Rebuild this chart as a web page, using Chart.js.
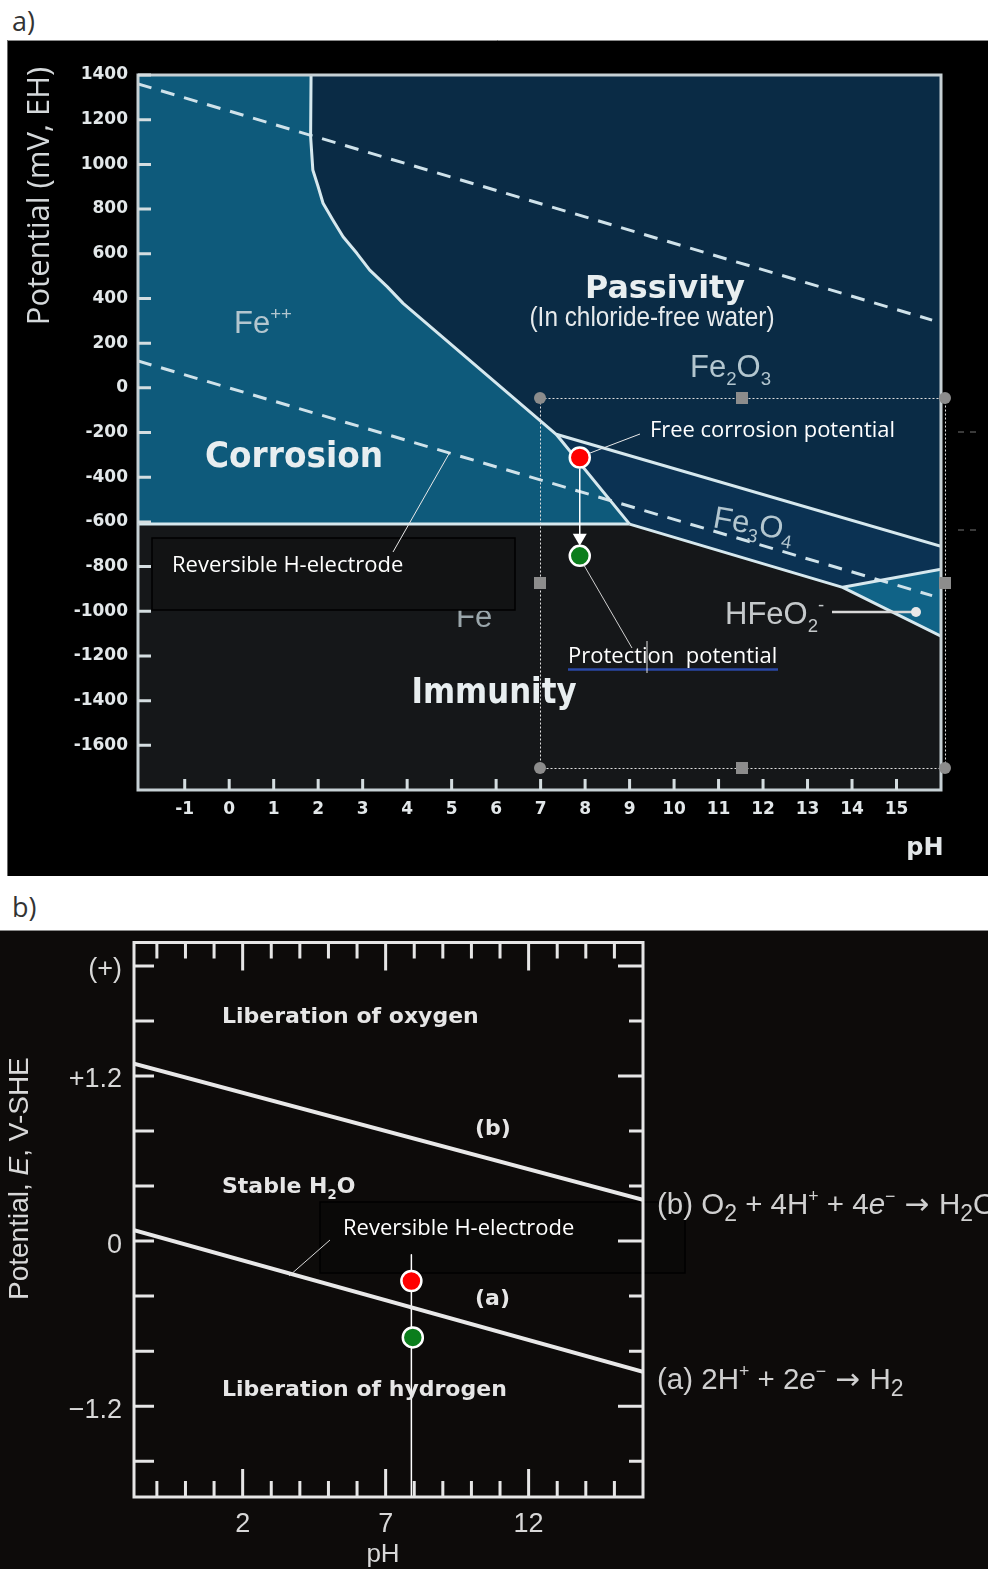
<!DOCTYPE html>
<html>
<head>
<meta charset="utf-8">
<script src="https://cdn.jsdelivr.net/npm/chart.js@4.4.1/dist/chart.umd.min.js"></script>
<style>
  html, body { margin: 0; padding: 0; background: #fff; }
  body { position: relative; width: 988px; height: 1569px; overflow: hidden; }
  .tag { position: absolute; left: 12px; font: 27px 'Open Sans', sans-serif; color: #333; line-height: 30px; }
  #chartA { position: absolute; left: 7px; top: 40px; }
  #chartB { position: absolute; left: 0; top: 930px; }
</style>
</head>
<body>
<div class="tag" style="top:6px">a)</div>
<div class="tag" style="top:892px">b)</div>
<canvas id="chartA" width="981" height="836"></canvas>
<canvas id="chartB" width="988" height="639"></canvas>
<script>
// ---- panel a: iron Pourbaix diagram, points are [pH, mV] ----
const phTicksA = [-1, 0, 1, 2, 3, 4, 5, 6, 7, 8, 9, 10, 11, 12, 13, 14, 15];
const mvTicksA = [-1600, -1400, -1200, -1000, -800, -600, -400, -200, 0, 200, 400, 600, 800, 1000, 1200, 1400];
const fe2Boundary = [[1.84, 1400], [1.83, 1124], [1.88, 975], [2.0, 900], [2.11, 826], [2.33, 751],
                     [2.56, 676], [2.87, 602], [3.16, 527], [3.55, 453], [3.91, 378], [7.35, -208], [9.0, -610]];
const feFloor = [[-2.05, -610], [9.0, -610]];
const fe3o4Top = [[7.35, -208], [16, -709]];
const immunityEdge = [[9.0, -610], [13.79, -893], [16, -1112]];
const hfeo2Top = [[13.79, -893], [16, -812]];
const oxygenLineA = [[-2.05, 1360], [15.8, 303]];
const hydrogenLineA = [[-2.05, 120], [15.8, -930]];
const freeCorrosionA = [7.88, -312];
const protectionA = [7.88, -752];

// ---- panel b: water stability diagram, points are [pH, V] ----
const phTicksB = [-1, 0, 1, 2, 3, 4, 5, 6, 7, 8, 9, 10, 11, 12, 13, 14, 15];
const phLabelsB = [2, 7, 12];
const eTicksB = [-1.6, -1.2, -0.8, -0.4, 0, 0.4, 0.8, 1.2, 1.6, 2.0];
const eLabelValuesB = [2.0, 1.2, 0, -1.2];
const eLabelTextB = ['(+)', '+1.2', '0', '\u22121.2'];
const oxygenLineB = [[-1.8, 1.29], [16, 0.30]];
const hydrogenLineB = [[-1.8, 0.08], [16, -0.95]];
const freeCorrosionB = [7.9, -0.29];
const protectionB = [7.95, -0.70];
const markerLineB = [[7.9, -0.10], [7.9, -1.86]];

const xy = pts => pts.map(p => ({ x: p[0], y: p[1] }));

// polygons built from the boundaries above
const corrosionPoly = [[-2.05, 1400]].concat(fe2Boundary, [[-2.05, -610]]);
const passivityPoly = fe2Boundary.slice(0, -1).concat([[16, -709], [16, 1400]]);
const fe3o4Poly = [fe3o4Top[0], fe3o4Top[1], hfeo2Top[1], hfeo2Top[0], immunityEdge[0]];
const hfeo2Poly = [hfeo2Top[0], hfeo2Top[1], immunityEdge[2]];

function region(pts, color) {
  return { data: xy(pts), fill: 'shape', backgroundColor: color, borderColor: 'transparent',
           borderWidth: 0, pointRadius: 0, tension: 0, order: 10 };
}
function edge(pts, color, width, dash) {
  return { data: xy(pts), fill: false, borderColor: color, borderWidth: width, borderDash: dash || [],
           pointRadius: 0, tension: 0, order: 5, borderJoinStyle: 'round' };
}
function dot(p, color) {
  return { data: xy([p]), showLine: false, pointRadius: 10, pointBackgroundColor: color,
           pointBorderColor: '#ffffff', pointBorderWidth: 2.5, order: 1 };
}

function txt(ctx, s, x, y, font, color, align, maxW) {
  ctx.save();
  ctx.font = font; ctx.fillStyle = color;
  ctx.textAlign = align || 'left'; ctx.textBaseline = 'middle';
  if (maxW) ctx.fillText(s, x, y, maxW); else ctx.fillText(s, x, y);
  ctx.restore();
}
// parts: [text, mode] mode 0 normal, 1 sub, 2 sup, 3 italic, 4 arrow ; y is the baseline
function chem(ctx, parts, x, y, size, family, color, weight, subScale) {
  ctx.save();
  ctx.fillStyle = color; ctx.textBaseline = 'alphabetic'; ctx.textAlign = 'left';
  const w = weight ? weight + ' ' : '';
  const sub = subScale || 0.6;
  let cx = x;
  for (const [s, mode] of parts) {
    let sz = size, dy = 0, fam = family, st = '';
    if (mode === 1) { sz = size * sub; dy = size * 0.25; }
    if (mode === 2) { sz = size * 0.6; dy = -size * 0.42; }
    if (mode === 3) st = 'italic ';
    if (mode === 4) fam = "'DejaVu Sans', sans-serif";
    ctx.font = st + w + sz + 'px ' + fam;
    ctx.fillText(s, cx, y + dy);
    cx += ctx.measureText(s).width;
  }
  ctx.restore();
}
function line(ctx, x1, y1, x2, y2, color, w, dash) {
  ctx.save();
  ctx.strokeStyle = color; ctx.lineWidth = w; ctx.setLineDash(dash || []);
  ctx.beginPath(); ctx.moveTo(x1, y1); ctx.lineTo(x2, y2); ctx.stroke();
  ctx.restore();
}
const noOverflow = s => { s.paddingTop = 0; s.paddingBottom = 0; s.paddingLeft = 0; s.paddingRight = 0; };

const panelA = {
  id: 'panelA',
  beforeDraw(chart) {
    const { ctx, chartArea: a } = chart;
    ctx.save();
    ctx.fillStyle = '#000'; ctx.fillRect(0, 0, chart.width, chart.height);
    ctx.fillStyle = '#151719'; ctx.fillRect(a.left, a.top, a.right - a.left, a.bottom - a.top);
    ctx.restore();
    line(ctx, 0, 0.5, chart.width, 0.5, '#8a8a8a', 1);
    line(ctx, 0.5, 0, 0.5, chart.height, '#6a6a6a', 1);
  },
  afterDatasetsDraw(chart) {
    const { ctx, chartArea: a, scales: { x, y } } = chart;
    ctx.save();
    ctx.strokeStyle = '#c6d0d4'; ctx.lineWidth = 3;
    ctx.strokeRect(a.left, a.top, a.right - a.left, a.bottom - a.top);
    ctx.strokeStyle = '#d4dde0'; ctx.lineWidth = 3;
    ctx.beginPath();
    for (const v of mvTicksA) { const py = y.getPixelForValue(v); ctx.moveTo(a.left, py); ctx.lineTo(a.left + 13, py); }
    for (const v of phTicksA) { const px = x.getPixelForValue(v); ctx.moveTo(px, a.bottom); ctx.lineTo(px, a.bottom - 11); }
    ctx.stroke();
    ctx.restore();

    // arrow from free corrosion to protection potential
    const rx = x.getPixelForValue(freeCorrosionA[0]), ry = y.getPixelForValue(freeCorrosionA[1]);
    const gx = x.getPixelForValue(protectionA[0]), gy = y.getPixelForValue(protectionA[1]);
    line(ctx, rx, ry + 11, gx, gy - 20, '#ffffff', 1.5);
    ctx.save();
    ctx.fillStyle = '#ffffff';
    ctx.beginPath(); ctx.moveTo(gx - 7, gy - 22); ctx.lineTo(gx + 7, gy - 22); ctx.lineTo(gx, gy - 10); ctx.closePath(); ctx.fill();
    ctx.restore();
  },
  afterDraw(chart) {
    const { ctx, scales: { x, y } } = chart;
    const rx = x.getPixelForValue(freeCorrosionA[0]), ry = y.getPixelForValue(freeCorrosionA[1]);
    const gx = x.getPixelForValue(protectionA[0]), gy = y.getPixelForValue(protectionA[1]);
    ctx.save();
    ctx.translate(-7, -40); // page coordinates from here
    const gray = '#b3c6cf', white = '#e8eef0';
    const gothic = "'Liberation Sans', Arial, sans-serif";
    const bold = "bold 35px 'DejaVu Sans', sans-serif";

    // axis titles
    ctx.save();
    ctx.translate(40, 196); ctx.rotate(-Math.PI / 2);
    txt(ctx, 'Potential (mV, EH)', 0, 0, "31px 'Open Sans', sans-serif", '#d4d8da', 'center', 270);
    ctx.restore();
    txt(ctx, 'pH', 925, 849, "bold 24px 'DejaVu Sans', sans-serif", '#e2e6e8', 'center');

    // region labels
    chem(ctx, [['Fe', 0], ['++', 2]], 234, 333, 31, gothic, gray);
    txt(ctx, 'Corrosion', 294, 458, bold, white, 'center', 178);
    txt(ctx, 'Passivity', 665, 290, "bold 32px 'DejaVu Sans', sans-serif", white, 'center', 160);
    txt(ctx, '(In chloride-free water)', 652, 318, "28px 'Liberation Sans', Arial, sans-serif", '#e6eaec', 'center', 245);
    chem(ctx, [['Fe', 0], ['2', 1], ['O', 0], ['3', 1]], 690, 377, 31, gothic, gray);
    ctx.save();
    ctx.translate(712, 527); ctx.rotate(10 * Math.PI / 180);
    chem(ctx, [['Fe', 0], ['3', 1], ['O', 0], ['4', 1]], 0, 0, 31, gothic, gray);
    ctx.restore();
    chem(ctx, [['Fe', 0]], 456, 627, 31, gothic, '#9aa6ab');
    txt(ctx, 'Immunity', 494, 694, bold, white, 'center', 165);
    chem(ctx, [['HFeO', 0], ['2', 1], ['-', 2]], 725, 624, 31, gothic, '#c4c8ca');
    line(ctx, 832, 612, 912, 612, '#d8d8d8', 2.5);
    ctx.save(); ctx.fillStyle = '#e8e8e8';
    ctx.beginPath(); ctx.arc(916, 612, 5, 0, Math.PI * 2); ctx.fill(); ctx.restore();

    // callout box
    ctx.save();
    ctx.fillStyle = '#121314'; ctx.strokeStyle = '#000'; ctx.lineWidth = 1.5;
    ctx.fillRect(152, 538, 363, 72); ctx.strokeRect(152, 538, 363, 72);
    ctx.restore();
    txt(ctx, 'Reversible H-electrode', 172, 566, "22px 'Open Sans', sans-serif", '#ffffff', 'left', 234);
    line(ctx, 393, 552, 450, 452, '#e8e8e8', 1);

    // free corrosion / protection callouts
    txt(ctx, 'Free corrosion potential', 650, 431, "22px 'Open Sans', sans-serif", '#ffffff', 'left', 245);
    line(ctx, rx + 7 + 9, ry + 40 - 4, 640, 434, '#e8e8e8', 1);
    txt(ctx, 'Protection  potential', 568, 657, "22px 'Open Sans', sans-serif", '#ffffff', 'left', 210);
    line(ctx, 568, 669.5, 778, 669.5, '#2a48a6', 2.5);
    line(ctx, 647, 641, 647, 673, '#e0e0e0', 1);
    line(ctx, gx + 7 + 4, gy + 40 + 9, 632, 648, '#d0d0d0', 1);

    // selection frame
    ctx.save();
    ctx.strokeStyle = '#e0e0e0'; ctx.lineWidth = 1; ctx.setLineDash([2, 2]);
    ctx.strokeRect(540.5, 398.5, 405, 370);
    ctx.setLineDash([]);
    ctx.fillStyle = '#8c8c8c';
    for (const [hx, hy] of [[540, 398], [945, 398], [540, 768], [945, 768]]) {
      ctx.beginPath(); ctx.arc(hx, hy, 6, 0, Math.PI * 2); ctx.fill();
    }
    for (const [hx, hy] of [[742, 398], [742, 768], [540, 583], [945, 583]]) ctx.fillRect(hx - 6, hy - 6, 12, 12);
    ctx.restore();
    line(ctx, 958, 432, 964, 432, '#3a3a3a', 2);
    line(ctx, 970, 432, 976, 432, '#3a3a3a', 2);
    line(ctx, 958, 530, 964, 530, '#3a3a3a', 2);
    line(ctx, 970, 530, 976, 530, '#3a3a3a', 2);
    ctx.restore();
  }
};

new Chart(document.getElementById('chartA'), {
  type: 'line',
  data: {
    datasets: [
      region(passivityPoly, '#0a2b45'),
      region(corrosionPoly, '#0e5a7b'),
      region(fe3o4Poly, '#0b3253'),
      region(hfeo2Poly, '#106387'),
      edge(fe2Boundary, '#d6e8ee', 3),
      edge(feFloor, '#d6e8ee', 3),
      edge(fe3o4Top, '#d6e8ee', 3),
      edge(immunityEdge, '#d6e8ee', 3),
      edge(hfeo2Top, '#d6e8ee', 3),
      edge(oxygenLineA, '#cfe2ea', 3, [14, 10]),
      edge(hydrogenLineA, '#cfe2ea', 3, [14, 10]),
      dot(freeCorrosionA, '#ff0000'),
      dot(protectionA, '#0b7d1c')
    ]
  },
  options: {
    responsive: false, animation: false, devicePixelRatio: 1, events: [],
    layout: { padding: { top: 35, right: 47, left: 0, bottom: 0 } },
    plugins: { legend: { display: false }, tooltip: { enabled: false } },
    scales: {
      x: {
        type: 'linear', min: -2.05, max: 16,
        grid: { display: false }, border: { display: false },
        afterBuildTicks: s => { s.ticks = phTicksA.map(v => ({ value: v })); },
        afterFit: s => { s.height = 86; noOverflow(s); },
        ticks: { autoSkip: false, maxRotation: 0, padding: 1, color: '#e2e7e9',
                 font: { family: 'DejaVu Sans', weight: 'bold', size: 17 }, callback: v => String(v) }
      },
      y: {
        type: 'linear', min: -1800, max: 1400,
        grid: { display: false }, border: { display: false },
        afterBuildTicks: s => { s.ticks = mvTicksA.map(v => ({ value: v })); },
        afterFit: s => { s.width = 131; noOverflow(s); },
        ticks: { autoSkip: false, padding: 2, color: '#e2e7e9',
                 font: { family: 'DejaVu Sans', weight: 'bold', size: 17 }, callback: v => String(v) }
      }
    }
  },
  plugins: [panelA]
});

const panelB = {
  id: 'panelB',
  beforeDraw(chart) {
    const { ctx } = chart;
    ctx.save();
    ctx.fillStyle = '#0d0b0a'; ctx.fillRect(0, 0, chart.width, chart.height);
    ctx.restore();
    line(ctx, 0, 0.5, chart.width, 0.5, '#8a8a8a', 1);
  },
  beforeDatasetsDraw(chart) {
    const { ctx } = chart;
    ctx.save();
    ctx.translate(0, -930);
    ctx.fillStyle = '#0a0908'; ctx.strokeStyle = '#000'; ctx.lineWidth = 1.5;
    ctx.fillRect(320, 1202, 365, 71); ctx.strokeRect(320, 1202, 365, 71);
    ctx.restore();
  },
  afterDatasetsDraw(chart) {
    const { ctx, chartArea: a, scales: { x, y } } = chart;
    ctx.save();
    ctx.strokeStyle = '#e6e6e6'; ctx.lineWidth = 3;
    ctx.strokeRect(a.left, a.top, a.right - a.left, a.bottom - a.top);
    ctx.beginPath();
    for (const v of eTicksB) {
      const py = y.getPixelForValue(v);
      const major = eLabelValuesB.some(l => Math.abs(l - v) < 1e-6);
      ctx.moveTo(a.left, py); ctx.lineTo(a.left + 20, py);
      ctx.moveTo(a.right, py); ctx.lineTo(a.right - (major ? 25 : 14), py);
    }
    for (const v of phTicksB) {
      const px = x.getPixelForValue(v);
      const major = phLabelsB.includes(v);
      ctx.moveTo(px, a.bottom); ctx.lineTo(px, a.bottom - (major ? 28 : 16));
      ctx.moveTo(px, a.top); ctx.lineTo(px, a.top + (major ? 28 : 16));
    }
    ctx.stroke();
    ctx.restore();
  },
  afterDraw(chart) {
    const { ctx } = chart;
    ctx.save();
    ctx.translate(0, -930);
    const lab = "bold 22px 'DejaVu Sans', sans-serif", c = '#e6e6e6';
    txt(ctx, 'Liberation of oxygen', 222, 1017, lab, c, 'left', 263);
    txt(ctx, '(b)', 475, 1129, lab, c, 'left', 36);
    chem(ctx, [['Stable H', 0], ['2', 1], ['O', 0]], 222, 1193, 22, "'DejaVu Sans', sans-serif", c, 'bold');
    txt(ctx, '(a)', 475, 1299, lab, c, 'left', 36);
    txt(ctx, 'Liberation of hydrogen', 222, 1390, lab, c, 'left', 290);

    txt(ctx, 'Reversible H-electrode', 343, 1229, "22px 'Open Sans', sans-serif", '#ffffff', 'left', 234);
    line(ctx, 330, 1240, 289, 1276, '#d8d8d8', 1);

    const sans = "'Liberation Sans', Arial, sans-serif";
    chem(ctx, [['(b) O', 0], ['2', 1], [' + 4H', 0], ['+', 2], [' + 4', 0], ['e', 3], ['\u2212', 2],
               [' \u2192 ', 4], ['H', 0], ['2', 1], ['O', 0]], 657, 1214, 29.5, sans, '#d0d0d0', '', 0.78);
    chem(ctx, [['(a) 2H', 0], ['+', 2], [' + 2', 0], ['e', 3], ['\u2212', 2], [' \u2192 ', 4], ['H', 0], ['2', 1]],
         657, 1389, 29.5, sans, '#d0d0d0', '', 0.78);

    ctx.save();
    ctx.translate(28, 1300); ctx.rotate(-Math.PI / 2);
    chem(ctx, [['Potential, ', 0], ['E', 3], [', V-SHE', 0]], 0, 0, 28, sans, '#d8d8d8');
    ctx.restore();
    txt(ctx, 'pH', 383, 1555, '26px ' + sans, '#d8d8d8', 'center');
    ctx.restore();
  }
};

new Chart(document.getElementById('chartB'), {
  type: 'line',
  data: {
    datasets: [
      edge(oxygenLineB, '#e8e8e8', 4),
      edge(hydrogenLineB, '#e8e8e8', 4),
      edge(markerLineB, '#ffffff', 1.5),
      dot(freeCorrosionB, '#ff0000'),
      dot(protectionB, '#0b7d1c')
    ]
  },
  options: {
    responsive: false, animation: false, devicePixelRatio: 1, events: [],
    layout: { padding: { top: 11, right: 345, left: 0, bottom: 0 } },
    plugins: { legend: { display: false }, tooltip: { enabled: false } },
    scales: {
      x: {
        type: 'linear', min: -1.8, max: 16,
        grid: { display: false }, border: { display: false },
        afterBuildTicks: s => { s.ticks = phTicksB.map(v => ({ value: v })); },
        afterFit: s => { s.height = 72; noOverflow(s); },
        ticks: { autoSkip: false, maxRotation: 0, padding: 3, color: '#d8d8d8',
                 font: { family: 'Liberation Sans', size: 27 },
                 callback: v => phLabelsB.includes(v) ? String(v) : '' }
      },
      y: {
        type: 'linear', min: -1.86, max: 2.17,
        grid: { display: false }, border: { display: false },
        afterBuildTicks: s => { s.ticks = eTicksB.map(v => ({ value: v })); },
        afterFit: s => { s.width = 134; noOverflow(s); },
        ticks: { autoSkip: false, padding: 4, labelOffset: 4, color: '#d8d8d8',
                 font: { family: 'Liberation Sans', size: 27 },
                 callback: v => {
                   const i = eLabelValuesB.findIndex(l => Math.abs(l - v) < 1e-6);
                   return i >= 0 ? eLabelTextB[i] : '';
                 } }
      }
    }
  },
  plugins: [panelB]
});
</script>
</body>
</html>
